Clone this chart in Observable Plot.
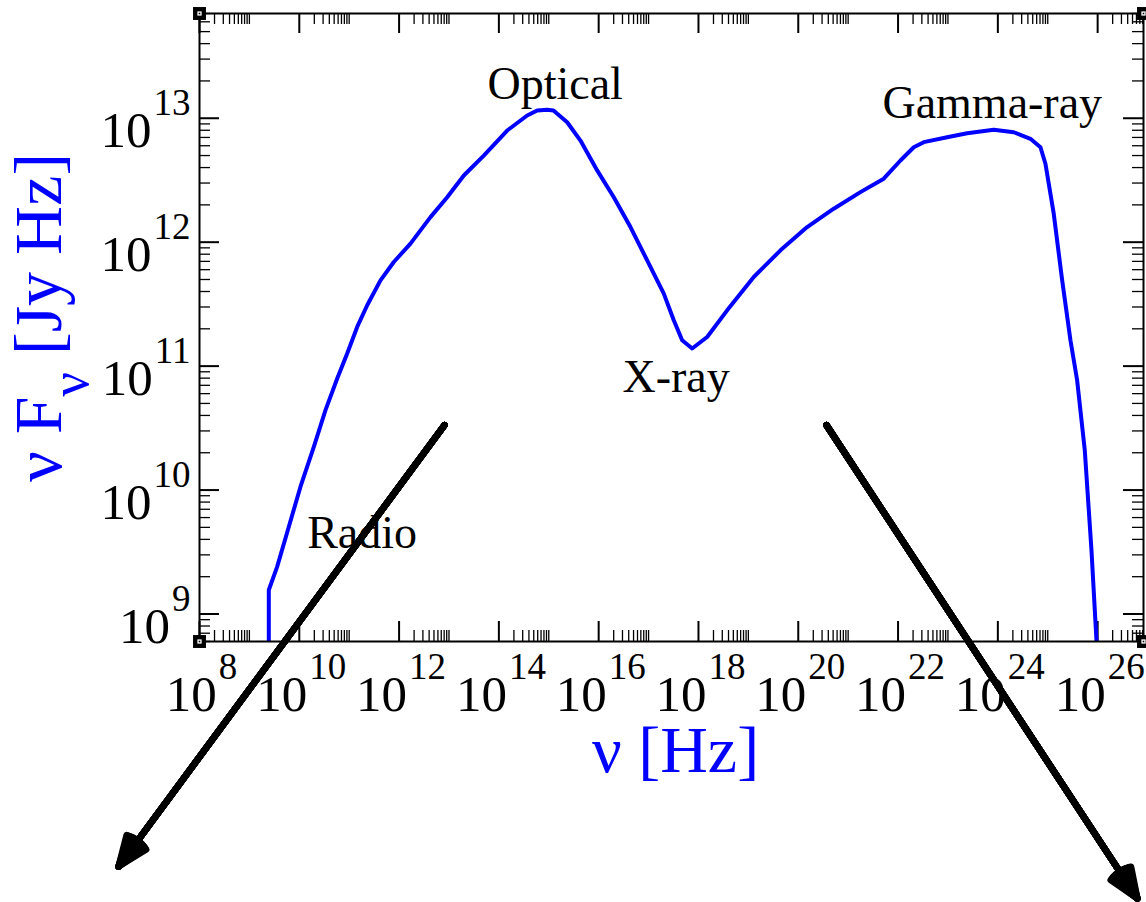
<!DOCTYPE html>
<html><head><meta charset="utf-8">
<script src="https://cdn.jsdelivr.net/npm/d3@7"></script>
<script src="https://cdn.jsdelivr.net/npm/@observablehq/plot@0.6"></script>
<style>body{margin:0;background:#fff;} svg{display:block}</style>
</head><body><div id="chart"></div>
<script>
// ---- data (log10 values) ----
const curveLogNu = [9.389, 9.389, 9.557, 9.790, 10.024, 10.291, 10.525, 10.760, 10.960, 11.160, 11.361, 11.627, 11.894, 12.228, 12.629, 12.964, 13.297, 13.697, 14.166, 14.567, 14.768, 14.968, 15.094, 15.369, 15.635, 15.970, 16.303, 16.637, 16.972, 17.305, 17.505, 17.673, 17.874, 18.174, 18.575, 19.108, 19.643, 20.178, 20.711, 21.246, 21.713, 22.048, 22.315, 22.515, 22.984, 23.385, 23.918, 24.319, 24.653, 24.854, 24.954, 25.120, 25.289, 25.455, 25.589, 25.742, 25.876, 25.976, 26.0];
const curveLogF = [8.5, 9.194, 9.382, 9.704, 10.027, 10.349, 10.645, 10.900, 11.102, 11.316, 11.491, 11.692, 11.840, 11.988, 12.202, 12.363, 12.538, 12.699, 12.901, 13.022, 13.062, 13.068, 13.062, 12.968, 12.820, 12.579, 12.363, 12.122, 11.853, 11.585, 11.370, 11.209, 11.142, 11.235, 11.450, 11.719, 11.934, 12.122, 12.270, 12.404, 12.512, 12.659, 12.766, 12.807, 12.847, 12.879, 12.907, 12.887, 12.834, 12.766, 12.633, 12.230, 11.692, 11.209, 10.886, 10.322, 9.517, 8.791, 8.6];

const xDomain = [1e8, 8.3e26];
const yDomain = [6e8, 7e13];
const xMajorExp = [8, 10, 12, 14, 16, 18, 20, 22, 24, 26];
const yMajorExp = [9, 10, 11, 12, 13];
const yMinorBaseExp = [8, 9, 10, 11, 12, 13];
const xMinorMult = [2, 3, 4, 5, 6, 7, 8, 9, 10];
const yMinorMult = [2, 3, 4, 5, 6, 7, 8, 9];

const bandNames = ["Radio", "Optical", "X-ray", "Gamma-ray"];
const bandLogNu = [10.158, 13.772, 16.477, 21.687];
const bandLogF = [9.530, 13.156, 10.790, 13.002];

const arrowStartLogNu = [12.91, 20.565];
const arrowStartLogF = [10.524, 10.524];
const arrowEndLogNu = [6.377, 26.797];
const arrowEndLogF = [6.962, 6.704];

const xLabel = "ν [Hz]";
const yLabel = "ν F_ν [Jy Hz]";

// ---- derived tables ----
const curve = curveLogNu.map((e, i) => ({nu: 10 ** e, f: 10 ** curveLogF[i]}));
const xMajor = xMajorExp.map(e => 10 ** e);
const xMinor = xMajorExp.flatMap(e => xMinorMult.map(k => k * 10 ** e)).filter(v => v > xDomain[0] && v <= xDomain[1]);
const yMajor = yMajorExp.map(e => 10 ** e);
const yMinor = yMinorBaseExp.flatMap(e => yMinorMult.map(k => k * 10 ** e)).filter(v => v >= yDomain[0] && v <= yDomain[1]);
const bands = bandNames.map((n, i) => ({name: n, nu: 10 ** bandLogNu[i], f: 10 ** bandLogF[i]}));
const arrows = arrowStartLogNu.map((e, i) => ({x1: 10 ** e, y1: 10 ** arrowStartLogF[i], x2: 10 ** arrowEndLogNu[i], y2: 10 ** arrowEndLogF[i]}));
const corners = [[xDomain[0], yDomain[0]], [xDomain[0], yDomain[1]], [xDomain[1], yDomain[0]], [xDomain[1], yDomain[1]]];

const W = 1146, H = 902, mL = 199, mR = 3, mT = 13, mB = 261;
const fw = W - mL - mR, fh = H - mT - mB;
const majorLen = 20, minorLen = 11;

const arrowHead = (angle) => Plot.arrow(arrows, {x1: "x1", y1: "y1", x2: "x2", y2: "y2", stroke: "black", strokeWidth: 6.5, headLength: 7.5, headAngle: angle});
const headAngles = [44, 39, 34, 29, 24, 19, 14, 9, 4];

const chart = Plot.plot({
  width: W, height: H,
  marginLeft: mL, marginRight: mR, marginTop: mT, marginBottom: mB,
  style: {fontFamily: "'Liberation Serif', 'Times New Roman', serif", background: "white", overflow: "visible"},
  x: {type: "log", domain: xDomain, axis: null},
  y: {type: "log", domain: yDomain, axis: null},
  marks: [
    // ticks (inward, on all four sides)
    Plot.tickX(xMajor, {x: d => d, insetTop: fh - majorLen, stroke: "black", strokeWidth: 2}),
    Plot.tickX(xMajor, {x: d => d, insetBottom: fh - majorLen, stroke: "black", strokeWidth: 2}),
    Plot.tickX(xMinor, {x: d => d, insetTop: fh - minorLen, stroke: "black", strokeWidth: 1.3}),
    Plot.tickX(xMinor, {x: d => d, insetBottom: fh - minorLen, stroke: "black", strokeWidth: 1.3}),
    Plot.tickY(yMajor, {y: d => d, insetRight: fw - majorLen, stroke: "black", strokeWidth: 2}),
    Plot.tickY(yMajor, {y: d => d, insetLeft: fw - majorLen, stroke: "black", strokeWidth: 2}),
    Plot.tickY(yMinor, {y: d => d, insetRight: fw - minorLen, stroke: "black", strokeWidth: 1.3}),
    Plot.tickY(yMinor, {y: d => d, insetLeft: fw - minorLen, stroke: "black", strokeWidth: 1.3}),
    // tick labels
    Plot.text(xMajorExp, {x: e => 10 ** e, text: e => "10^" + e, frameAnchor: "bottom", dy: 69, dx: 2,
      textAnchor: "middle", lineAnchor: "bottom", fontSize: 51, fill: "black"}),
    Plot.text(yMajorExp, {y: e => 10 ** e, text: e => "10^" + e, frameAnchor: "left", dx: -9, dy: 29,
      textAnchor: "end", lineAnchor: "bottom", fontSize: 51, fill: "black"}),
    // axis labels
    Plot.text([xLabel], {text: d => d, frameAnchor: "bottom", dx: 4, dy: 130, textAnchor: "middle", lineAnchor: "bottom",
      fontSize: 66, fill: "#0000ff"}),
    Plot.text([yLabel], {text: d => d, frameAnchor: "left", dx: -139, dy: -10, rotate: -90, textAnchor: "middle", lineAnchor: "bottom",
      fontSize: 68, fill: "#0000ff"}),
    // curve
    Plot.line(curve, {x: "nu", y: "f", stroke: "#0000ff", strokeWidth: 4, strokeLinejoin: "round", clip: true}),
    // band annotations
    Plot.text(bands, {x: "nu", y: "f", text: "name", textAnchor: "start", lineAnchor: "bottom", fontSize: 46, fill: "black"}),
    // frame
    Plot.frame({stroke: "black", strokeWidth: 2}),
    // corner markers
    Plot.dot(corners, {x: d => d[0], y: d => d[1], symbol: "square", r: 7.3, fill: "black", stroke: null}),
    Plot.dot(corners, {x: d => d[0], y: d => d[1], symbol: "square", r: 2.4, fill: "white", stroke: null}),
    Plot.dot(corners, {x: d => d[0], y: d => d[1], symbol: "square", r: 0.9, fill: "black", stroke: null}),
    // arrows (several head angles overlaid to fill the head)
    ...headAngles.map(arrowHead)
  ]
});

// rich text: "a^b" -> superscript b, "a_b rest" -> subscript b
function richText(svg) {
  const ns = "http://www.w3.org/2000/svg";
  svg.querySelectorAll("text").forEach(t => {
    const s = t.textContent;
    const m = s.match(/^([^\^_]*)([\^_])(\S+)(.*)$/);
    if (!m) return;
    t.textContent = "";
    t.style.whiteSpace = "pre";
    const add = (str, attrs) => {
      const sp = document.createElementNS(ns, "tspan");
      sp.textContent = str;
      for (const k in attrs) sp.setAttribute(k, attrs[k]);
      t.appendChild(sp);
    };
    add(m[1], {});
    if (m[2] === "^") {
      add(m[3], {"font-size": "37px", dy: -32, dx: 2});
    } else {
      add(m[3], {"font-size": "54px", dy: 27});
      if (m[4]) add(m[4], {dy: -27});
    }
  });
}
richText(chart);

document.getElementById("chart").appendChild(chart);
</script>
</body></html>
